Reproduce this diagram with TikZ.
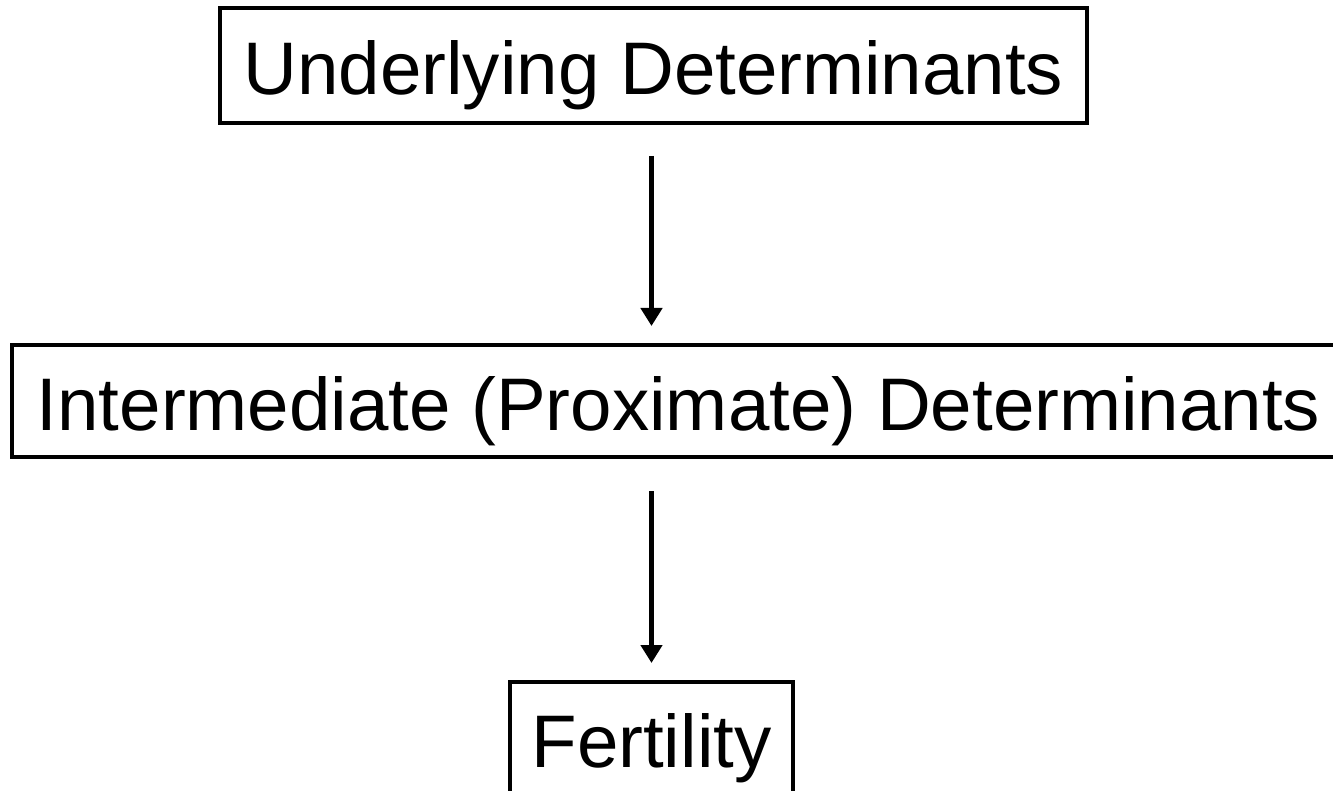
\documentclass[tikz,border=0pt]{standalone}
\usepackage{fontspec}
\setmainfont{Liberation Sans}
\usetikzlibrary{arrows.meta}
\begin{document}
\begin{tikzpicture}[x=1pt,y=-1pt,
  boxnode/.style={draw=black,line width=4pt,inner sep=0pt,text depth=0pt,
    font=\fontsize{74.5}{90}\selectfont},
  arr/.style={line width=5.5pt,-{Triangle[width=21pt,length=18pt]}}]
\useasboundingbox[fill=white] (0,0) rectangle (1333,791);
\node[boxnode,minimum width=867pt,minimum height=115pt,text height=59pt] (b1) at (653.5,65.5) {Underlying Determinants};
\node[boxnode,minimum width=1333pt,minimum height=112pt,text height=58pt] (b2) at (678.5,401) {Intermediate (Proximate) Determinants};
\node[boxnode,minimum width=283pt,minimum height=170pt,text height=0pt] (b3) at (651.5,767) {Fertility};
\draw[arr,shorten <=31pt,shorten >=17pt] (b1.south -| b3.north) -- (b2.north -| b3.north);
\draw[arr,shorten <=32pt,shorten >=17pt] (b2.south -| b3.north) -- (b3.north);
\end{tikzpicture}
\end{document}
